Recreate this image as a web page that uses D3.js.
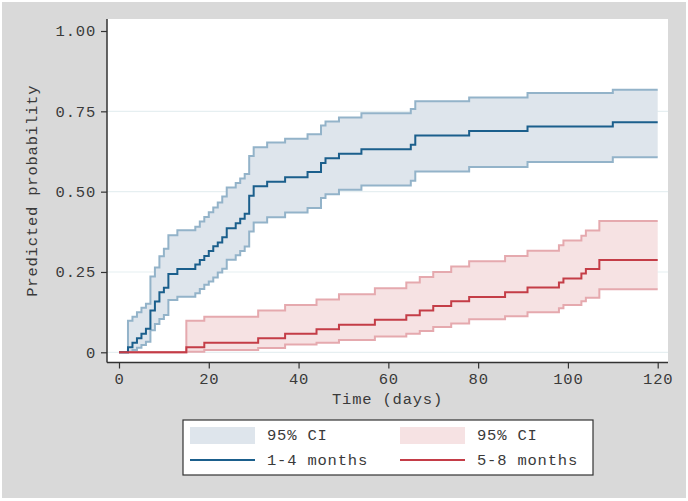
<!DOCTYPE html>
<html><head><meta charset="utf-8">
<script src="https://cdn.jsdelivr.net/npm/d3@7"></script>
<style>body{margin:0;background:#fff}svg{display:block}text{font-family:"Liberation Mono",monospace;fill:#3a3a3a;letter-spacing:0.8px}</style>
</head><body><svg id="c" width="688" height="501"></svg>
<script>
// ---- data ----
const xTicks = [0, 20, 40, 60, 80, 100, 120];
const yTicks = [0, 0.25, 0.5, 0.75, 1];
const yTickLabels = ["0", "0.25", "0.50", "0.75", "1.00"];
const seriesNames = ["1-4 months", "5-8 months"];
const ciLabel = "95% CI";

const blueDays = [0,2,3,4,5,6,7,8,9,10,11,13,17,18,19,20,21,22,23,24,26,27,28,29,30,33,37,42,45,46,49,54,65,66,78,91,110,120];
const blueEst  = [0,0.016,0.030,0.044,0.058,0.073,0.130,0.158,0.187,0.201,0.244,0.259,0.273,0.287,0.300,0.315,0.330,0.342,0.358,0.386,0.402,0.416,0.431,0.487,0.517,0.531,0.545,0.561,0.589,0.604,0.618,0.632,0.646,0.675,0.689,0.703,0.716,0.716];
const blueHi   = [0,0.098,0.111,0.125,0.139,0.151,0.236,0.264,0.299,0.322,0.364,0.380,0.391,0.407,0.421,0.436,0.451,0.466,0.485,0.513,0.527,0.541,0.555,0.611,0.638,0.653,0.665,0.679,0.706,0.718,0.731,0.744,0.757,0.781,0.793,0.807,0.817,0.817];
const blueLo   = [0,0.002,0.007,0.014,0.023,0.033,0.069,0.088,0.104,0.116,0.163,0.173,0.184,0.197,0.210,0.220,0.233,0.248,0.260,0.288,0.302,0.315,0.329,0.376,0.404,0.420,0.435,0.449,0.480,0.492,0.506,0.519,0.534,0.563,0.577,0.592,0.607,0.607];

const redDays = [0,15,19,31,37,44,49,57,64,67,70,74,78,86,91,98,99,103,104,107,120];
const redEst  = [0,0.016,0.030,0.044,0.058,0.072,0.086,0.101,0.115,0.130,0.144,0.159,0.172,0.187,0.202,0.217,0.230,0.245,0.259,0.287,0.287];
const redHi   = [0,0.098,0.111,0.130,0.147,0.164,0.181,0.199,0.217,0.234,0.250,0.267,0.283,0.300,0.316,0.333,0.348,0.363,0.379,0.409,0.409];
const redLo   = [0,0.002,0.007,0.013,0.024,0.030,0.038,0.049,0.058,0.066,0.079,0.090,0.103,0.112,0.125,0.137,0.147,0.159,0.170,0.196,0.196];

// ---- styles ----
const C = {
  bg: "#d9d9d9", grid: "#e6eff1", axis: "#333",
  blueFill: "#dee5ec", blueCI: "#93b3c9", blueLine: "#1b5f8c",
  redFill: "#f6e2e3", redCI: "#e5a9ae", redLine: "#c43d47"
};
const FS = 15.5;

const svg = d3.select("#c");
svg.append("rect").attr("x",2).attr("y",2).attr("width",684).attr("height",496).attr("fill",C.bg);

const L = 107, R = 668, T = 19, B = 362.5;
svg.append("rect").attr("x",L).attr("y",T).attr("width",R-L).attr("height",B-T).attr("fill","#fff");

const x = d3.scaleLinear().domain([0,120]).range([119, 657.7]);
const y = d3.scaleLinear().domain([0,1]).range([352.3, 31]);

// grid
svg.append("g").selectAll("line").data(yTicks.filter(d=>d<1)).join("line")
  .attr("x1",L).attr("x2",R).attr("y1",d=>y(d)).attr("y2",d=>y(d))
  .attr("stroke",C.grid).attr("stroke-width",1.2);

const mk = (days, a) => days.map((d,i)=>({d, v:a[i]}));
const band = (days, lo, hi) => days.map((d,i)=>({d, lo:lo[i], hi:hi[i]}));
const area = d3.area().curve(d3.curveStepAfter).x(p=>x(p.d)).y0(p=>y(p.lo)).y1(p=>y(p.hi));
const line = d3.line().curve(d3.curveStepAfter).x(p=>x(p.d)).y(p=>y(p.v));

const g = svg.append("g");
g.append("path").attr("d", area(band(blueDays, blueLo, blueHi))).attr("fill", C.blueFill);
g.append("path").attr("d", area(band(redDays, redLo, redHi))).attr("fill", C.redFill);
[[blueDays,blueHi,C.blueCI],[blueDays,blueLo,C.blueCI],[redDays,redHi,C.redCI],[redDays,redLo,C.redCI],
 [blueDays,blueEst,C.blueLine],[redDays,redEst,C.redLine]].forEach(([dd,vv,col])=>{
  g.append("path").attr("d", line(mk(dd,vv))).attr("fill","none").attr("stroke",col).attr("stroke-width",2);
});

// axes
const yAxis = d3.axisLeft(y).tickValues(yTicks).tickFormat((d,i)=>yTickLabels[i]).tickSize(6).tickPadding(5);
const ya = svg.append("g").attr("transform",`translate(${L},0)`).call(yAxis);
ya.select(".domain").attr("d",`M0,${T}V${B}`).attr("stroke",C.axis).attr("stroke-width",1.5);
ya.selectAll(".tick line").attr("stroke",C.axis).attr("stroke-width",1.2);
ya.selectAll("text").attr("font-size",FS).attr("font-family","Liberation Mono").attr("fill","#3a3a3a");

const xAxis = d3.axisBottom(x).tickValues(xTicks).tickSize(6).tickPadding(4);
const xa = svg.append("g").attr("transform",`translate(0,${B})`).call(xAxis);
xa.select(".domain").attr("d",`M${L},0H${R}`).attr("stroke",C.axis).attr("stroke-width",1.5);
xa.selectAll(".tick line").attr("stroke",C.axis).attr("stroke-width",1.2);
xa.selectAll("text").attr("font-size",FS).attr("font-family","Liberation Mono").attr("fill","#3a3a3a");

svg.append("text").attr("transform",`translate(37,${(T+B)/2}) rotate(-90)`).attr("text-anchor","middle")
  .attr("font-size",FS).text("Predicted probability");
svg.append("text").attr("x",(L+R)/2).attr("y",404).attr("text-anchor","middle").attr("font-size",FS).text("Time (days)");

// legend
const lg = svg.append("g");
lg.append("rect").attr("x",183).attr("y",420).attr("width",410).attr("height",55).attr("fill","#fff").attr("stroke","#333").attr("stroke-width",1.2);
const cols = [{x:190, fill:C.blueFill, line:C.blueLine, name:seriesNames[0]},{x:400, fill:C.redFill, line:C.redLine, name:seriesNames[1]}];
cols.forEach(c=>{
  lg.append("rect").attr("x",c.x).attr("y",427).attr("width",65).attr("height",17).attr("fill",c.fill);
  lg.append("text").attr("x",c.x+77).attr("y",440).attr("font-size",FS).text(ciLabel);
  lg.append("line").attr("x1",c.x).attr("x2",c.x+65).attr("y1",460).attr("y2",460).attr("stroke",c.line).attr("stroke-width",2);
  lg.append("text").attr("x",c.x+77).attr("y",465).attr("font-size",FS).text(c.name);
});
</script></body></html>
